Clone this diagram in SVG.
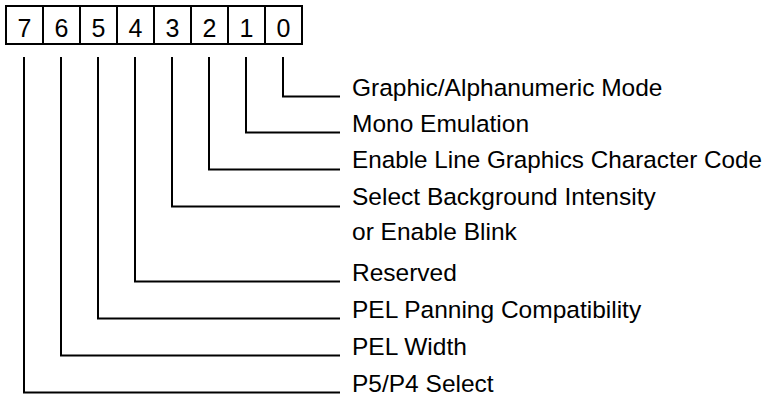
<svg xmlns="http://www.w3.org/2000/svg" width="766" height="396" viewBox="0 0 766 396">
<style>
.box{fill:#fff;stroke:#000;stroke-width:2}
.ln{fill:none;stroke:#000;stroke-width:2}
.d{font-family:"Liberation Sans",Arial,sans-serif;font-size:25px;text-anchor:middle;fill:#000}
.t{font-family:"Liberation Sans",Arial,sans-serif;font-size:24.5px;fill:#000}
</style>
<rect width="766" height="396" fill="#fff"/>
<g id="register">
<rect class="box" x="6" y="6" width="296" height="38"/>
<path class="ln" d="M43 6V44M80 6V44M117 6V44M154 6V44M191 6V44M228 6V44M265 6V44"/>
<text class="d" x="24.5" y="37">7</text>
<text class="d" x="61.5" y="37">6</text>
<text class="d" x="98.5" y="37">5</text>
<text class="d" x="135.5" y="37">4</text>
<text class="d" x="172.5" y="37">3</text>
<text class="d" x="209.5" y="37">2</text>
<text class="d" x="246.5" y="37">1</text>
<text class="d" x="283.5" y="37">0</text>
</g>
<g id="connectors">
<path class="ln" d="M283 57V96.5H340"/>
<path class="ln" d="M246 57V132.5H340"/>
<path class="ln" d="M209 57V169.5H340"/>
<path class="ln" d="M172 57V206.5H340"/>
<path class="ln" d="M135 57V281.5H340"/>
<path class="ln" d="M98 57V318.5H340"/>
<path class="ln" d="M61 57V355.5H340"/>
<path class="ln" d="M24 57V392.5H340"/>
</g>
<g id="bit0"><text class="t" x="352" y="96">Graphic/Alphanumeric Mode</text></g>
<g id="bit1"><text class="t" x="352" y="132">Mono Emulation</text></g>
<g id="bit2"><text class="t" x="352" y="168" textLength="410" lengthAdjust="spacingAndGlyphs">Enable Line Graphics Character Code</text></g>
<g id="bit3"><text class="t" x="352" y="205">Select Background Intensity</text><text class="t" x="352" y="240">or Enable Blink</text></g>
<g id="bit4"><text class="t" x="352" y="281">Reserved</text></g>
<g id="bit5"><text class="t" x="352" y="318">PEL Panning Compatibility</text></g>
<g id="bit6"><text class="t" x="352" y="355">PEL Width</text></g>
<g id="bit7"><text class="t" x="352" y="392">P5/P4 Select</text></g>
</svg>
